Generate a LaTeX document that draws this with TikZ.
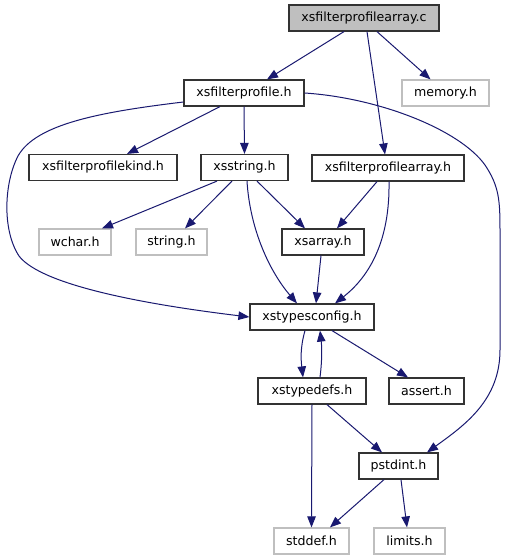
\documentclass[tikz,border=0pt]{standalone}
\usepackage{fontspec}
\setmainfont{DejaVu Sans}
\usetikzlibrary{arrows.meta,calc}
\definecolor{edgeblue}{HTML}{191970}
\definecolor{boxdark}{HTML}{333333}
\definecolor{boxlight}{HTML}{BFBFBF}
\begin{document}
\begin{tikzpicture}[x=1pt,y=-1pt,
  base/.style={rectangle,inner sep=0pt,minimum height=26pt,line width=1.2pt,
    font=\fontsize{12.6}{14}\selectfont,text=black},
  filebox/.style={base,draw=boxdark,fill=white},
  sysbox/.style={base,draw=boxlight,fill=white},
  rootbox/.style={base,draw=boxdark,fill=boxlight},
  edge/.style={draw=edgeblue,line width=1pt,-{Triangle[length=11pt,width=8.5pt]},edgeblue}]
\useasboundingbox (0,0) rectangle (508,560);
\fill[white] (0,0) rectangle (508,560);
% nodes
\node[rootbox,minimum width=150pt] (c) at (364,18) {xsfilterprofilearray.c};
\node[filebox,minimum width=120pt] (fp) at (244,93) {xsfilterprofile.h};
\node[sysbox,minimum width=87pt] (mem) at (445.5,93) {memory.h};
\node[filebox,minimum width=148pt] (fpk) at (103,167.5) {xsfilterprofilekind.h};
\node[filebox,minimum width=87pt] (xss) at (244.5,167.5) {xsstring.h};
\node[filebox,minimum width=152pt] (fpa) at (388,168) {xsfilterprofilearray.h};
\node[sysbox,minimum width=72pt] (wchar) at (75,242) {wchar.h};
\node[sysbox,minimum width=71pt] (str) at (171.5,242) {string.h};
\node[filebox,minimum width=82pt] (xsa) at (323,242) {xsarray.h};
\node[filebox,minimum width=124pt] (xtc) at (312,317) {xstypesconfig.h};
\node[filebox,minimum width=108pt] (xtd) at (312,391) {xstypedefs.h};
\node[filebox,minimum width=75pt] (asr) at (426.5,391) {assert.h};
\node[filebox,minimum width=79pt] (pst) at (398.5,466) {pstdint.h};
\node[sysbox,minimum width=75pt] (std) at (311.5,541) {stddef.h};
\node[sysbox,minimum width=71pt] (lim) at (409.5,541) {limits.h};
% edges
\draw[edge] ([xshift=-20pt]c.south) -- ([xshift=23pt]fp.north);
\draw[edge] ([xshift=13pt]c.south) -- ([xshift=-15pt]mem.north);
\draw[edge] ([xshift=3pt]c.south) -- ([xshift=-3pt]fpa.north);
\draw[edge] ([xshift=-24pt]fp.south) -- ([xshift=24pt]fpk.north);
\draw[edge] (fp.south) -- (xss.north);
\draw[edge] ($(fp.west)+(0,9)$) .. controls (100,112) and (36,124) .. (18,156)
  .. controls (4,183) and (2,230) .. (19,256)
  .. controls (42,286) and (150,305) .. (xtc.west);
\draw[edge] (fp.east) .. controls (380,98) and (460,130) .. (485,165)
  .. controls (499,186) and (500,200) .. (500,230) -- (500,350)
  .. controls (500,400) and (465,425) .. ([xshift=28.5pt]pst.north);
\draw[edge] ([xshift=-27.5pt]xss.south) -- ([xshift=27pt]wchar.north);
\draw[edge] ([xshift=-12.5pt]xss.south) -- ([xshift=13.5pt]str.north);
\draw[edge] ([xshift=12.5pt]xss.south) -- ([xshift=-18pt]xsa.north);
\draw[edge] ([xshift=2.5pt]xss.south) .. controls (250,230) and (270,272) .. ([xshift=-15pt]xtc.north);
\draw[edge] ([xshift=-11pt]fpa.south) -- ([xshift=14pt]xsa.north);
\draw[edge] ([xshift=1pt]fpa.south) .. controls (390,240) and (370,276) .. ([xshift=23pt]xtc.north);
\draw[edge] ([xshift=-2pt]xsa.south) -- ([xshift=4pt]xtc.north);
\draw[edge] ([xshift=-7pt]xtc.south) .. controls (300,348) and (301,360) .. ([xshift=-9pt]xtd.north);
\draw[edge] ([xshift=8pt]xtd.north) .. controls (322,362) and (322,348) .. ([xshift=8pt]xtc.south);
\draw[edge] ([xshift=20pt]xtc.south) -- ([xshift=-18.5pt]asr.north);
\draw[edge] ([xshift=15pt]xtd.south) -- ([xshift=-16.5pt]pst.north);
\draw[edge] (xtd.south) -- (std.north);
\draw[edge] ([xshift=-14.5pt]pst.south) -- ([xshift=18.5pt]std.north);
\draw[edge] ([xshift=2.5pt]pst.south) -- ([xshift=-2.5pt]lim.north);
\end{tikzpicture}
\end{document}
